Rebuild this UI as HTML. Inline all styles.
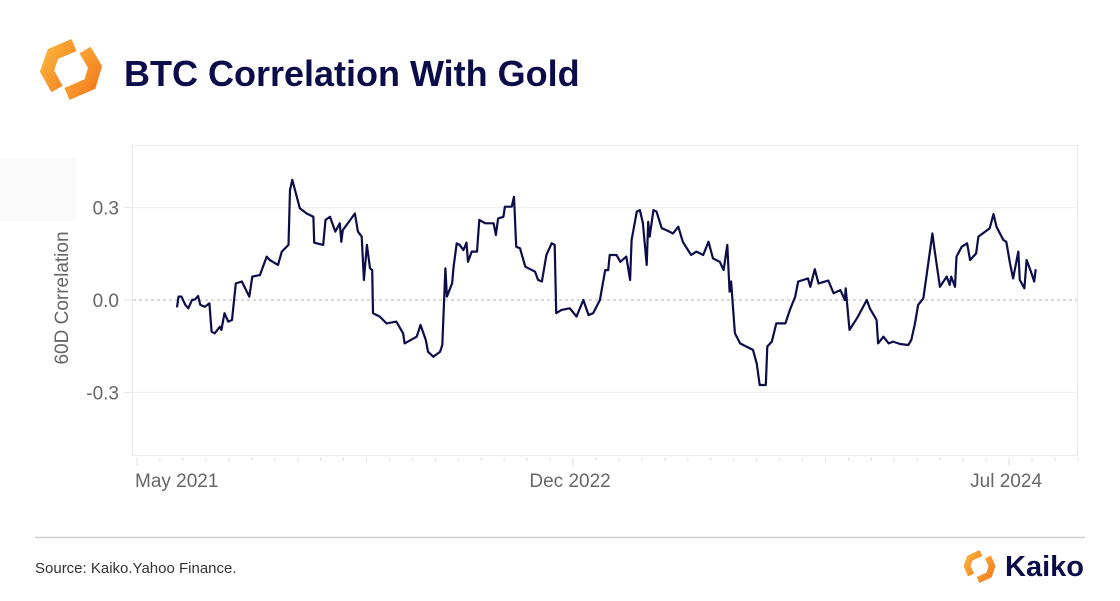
<!DOCTYPE html>
<html><head><meta charset="utf-8">
<style>
body{margin:0;background:#fff;width:1120px;height:601px;overflow:hidden;font-family:"Liberation Sans",sans-serif;}
svg{display:block}
</style></head>
<body>
<svg id="chart" width="1120" height="601" viewBox="0 0 1120 601">
  <defs>
    <linearGradient id="lg" x1="0" y1="0" x2="1" y2="1">
      <stop offset="0" stop-color="#fbb43a"/><stop offset="1" stop-color="#f47a20"/>
    </linearGradient>
  </defs>
  <g>
    <path d="M74,45 L53,54 L47,71 L57,89" fill="none" stroke="url(#lg)" stroke-width="13" stroke-linejoin="miter"/>
    <path d="M67,94 L90,84 L95,67 L85,50" fill="none" stroke="url(#lg)" stroke-width="13" stroke-linejoin="miter"/>
  </g>
  <text x="124" y="86" font-size="36" font-weight="bold" fill="#0c0c4a">BTC Correlation With Gold</text>
  <rect x="0" y="158" width="76" height="63" fill="#fafafa"/>
  <rect x="132.5" y="145.5" width="945" height="310" fill="none" stroke="#ececec"/>
  <g id="grid"></g>
  <g id="yticks"></g>
  <g id="xticks"></g>
  <text transform="translate(68,298) rotate(-90)" text-anchor="middle" font-size="19" fill="#666">60D Correlation</text>
  <path id="line" fill="none" stroke="#0c0c4a" stroke-width="2.2" stroke-linejoin="round"/>
  <line x1="35" y1="537.5" x2="1085" y2="537.5" stroke="#cfcfcf" stroke-width="1.5"/>
  <text x="35" y="573" font-size="15" fill="#333">Source: Kaiko.Yahoo Finance.</text>
  <g>
    <path d="M981,553 L970,558 L967,566 L971,575" fill="none" stroke="url(#lg)" stroke-width="6.5"/>
    <path d="M978,580 L989,575 L992,566 L988,557" fill="none" stroke="url(#lg)" stroke-width="6.5"/>
    <text x="1005" y="576" font-size="29" font-weight="bold" fill="#0c0c4a">Kaiko</text>
  </g>
</svg>
<script>
const days=[53,55,59,64,68,73,77,81,84,90,96,99,103,110,112,116,121,126,131,139,149,153,163,172,176,187,192,201,203,206,212,216,225,234,235,247,250,256,263,269,271,273,289,293,298,301,305,309,312,313,322,331,344,353,355,371,376,383,386,393,402,405,409,411,418,420,424,428,433,437,439,444,451,454,462,473,476,479,486,488,497,500,503,508,515,528,532,537,543,550,554,556,563,574,583,592,599,605,614,621,625,627,636,641,649,654,656,663,667,671,676,678,680,685,689,696,702,711,718,724,735,742,751,758,764,773,778,783,786,788,793,800,808,817,822,826,834,836,842,848,860,866,873,877,890,893,899,904,917,924,933,939,940,945,955,961,968,972,981,983,990,997,1003,1012,1023,1027,1032,1036,1043,1047,1052,1055,1058,1065,1074,1078,1080,1085,1087,1094,1101,1105,1113,1116,1125,1131,1136,1140,1149,1153,1158,1162,1169,1171,1177,1180,1185,1190,1192];
const values=[-0.024,0.011,0.011,-0.016,-0.027,0,0.002,0.013,-0.016,-0.022,-0.011,-0.103,-0.108,-0.087,-0.097,-0.043,-0.07,-0.065,0.054,0.06,0.011,0.076,0.081,0.141,0.13,0.114,0.157,0.179,0.357,0.39,0.335,0.298,0.281,0.27,0.186,0.179,0.26,0.27,0.222,0.249,0.189,0.227,0.281,0.222,0.206,0.065,0.179,0.103,0.097,-0.043,-0.054,-0.076,-0.07,-0.108,-0.141,-0.119,-0.081,-0.13,-0.168,-0.184,-0.168,-0.146,0.103,0.011,0.054,0.108,0.184,0.179,0.162,0.186,0.124,0.157,0.157,0.26,0.249,0.249,0.211,0.265,0.27,0.303,0.303,0.335,0.173,0.168,0.108,0.092,0.065,0.06,0.146,0.184,0.179,-0.043,-0.032,-0.027,-0.054,0,-0.049,-0.043,0,0.097,0.097,0.146,0.146,0.124,0.141,0.065,0.195,0.287,0.292,0.249,0.114,0.254,0.206,0.292,0.287,0.233,0.227,0.216,0.238,0.189,0.146,0.157,0.146,0.189,0.135,0.124,0.097,0.179,0.027,0.06,-0.108,-0.141,-0.151,-0.162,-0.206,-0.276,-0.276,-0.151,-0.135,-0.076,-0.076,-0.032,0.011,0.06,0.07,0.043,0.1,0.054,0.063,0.022,0.032,0,0.038,-0.097,-0.059,-0.032,0,-0.027,-0.065,-0.141,-0.119,-0.141,-0.135,-0.143,-0.146,-0.13,-0.076,-0.016,0.005,0.076,0.162,0.216,0.162,0.043,0.076,0.049,0.076,0.043,0.141,0.173,0.184,0.13,0.151,0.206,0.222,0.233,0.279,0.238,0.195,0.189,0.119,0.07,0.157,0.065,0.038,0.13,0.097,0.06,0.1];
const yTickValues=[0.3,0,-0.3];
const yTickLabels=["0.3","0.0","-0.3"];
const xTickLabels=["May 2021","Dec 2022","Jul 2024"];
const xTickMonths=[0,19,38];

const NS="http://www.w3.org/2000/svg";
const X0=137, PX_PER_DAY=1/1.3264;
const xScale=d=>X0+d*PX_PER_DAY;
const monthX=m=>X0+m*22.95;
const yScale=v=>300-v*308;

const grid=document.getElementById('grid');
const yt=document.getElementById('yticks');
yTickValues.forEach((v,i)=>{
  const y=yScale(v);
  const l=document.createElementNS(NS,'line');
  l.setAttribute('x1',133);l.setAttribute('x2',1077);
  l.setAttribute('y1',y);l.setAttribute('y2',y);
  if(v===0){l.setAttribute('stroke','#b5b5b5');l.setAttribute('stroke-dasharray','3,3');}
  else l.setAttribute('stroke','#ececec');
  
  
  grid.appendChild(l);
  const tk=document.createElementNS(NS,'line');
  tk.setAttribute('x1',124);tk.setAttribute('x2',132);
  tk.setAttribute('y1',y);tk.setAttribute('y2',y);
  tk.setAttribute('stroke','#e4e4e4');
  
  
  yt.appendChild(tk);
  const t=document.createElementNS(NS,'text');
  t.setAttribute('x',119);t.setAttribute('y',y+7);
  t.setAttribute('text-anchor','end');t.setAttribute('font-size','19');t.setAttribute('fill','#666');
  t.textContent=yTickLabels[i];
  
  
  yt.appendChild(t);
});
const xt=document.getElementById('xticks');
for(let k=0;k<=41;k++){
  const x=monthX(k);
  if(x>1078)break;
  const l=document.createElementNS(NS,'line');
  l.setAttribute('x1',x);l.setAttribute('x2',x);
  l.setAttribute('y1',458);l.setAttribute('y2',xTickMonths.includes(k)?466:461);
  l.setAttribute('stroke','#dcdcdc');
  
  
  xt.appendChild(l);
}
xTickLabels.forEach((s,i)=>{
  const t=document.createElementNS(NS,'text');
  const x=monthX(xTickMonths[i]);
  t.setAttribute('x',i===0?x-2:x-3);t.setAttribute('y',487);
  t.setAttribute('text-anchor',i===0?'start':'middle');
  t.setAttribute('font-size','19');t.setAttribute('fill','#666');
  t.textContent=s;
  
  
  xt.appendChild(t);
});
let d='';
days.forEach((dd,i)=>{d+=(i?'L':'M')+xScale(dd).toFixed(1)+','+yScale(values[i]).toFixed(1);});
document.getElementById('line').setAttribute('d',d);
</script>
</body></html>
